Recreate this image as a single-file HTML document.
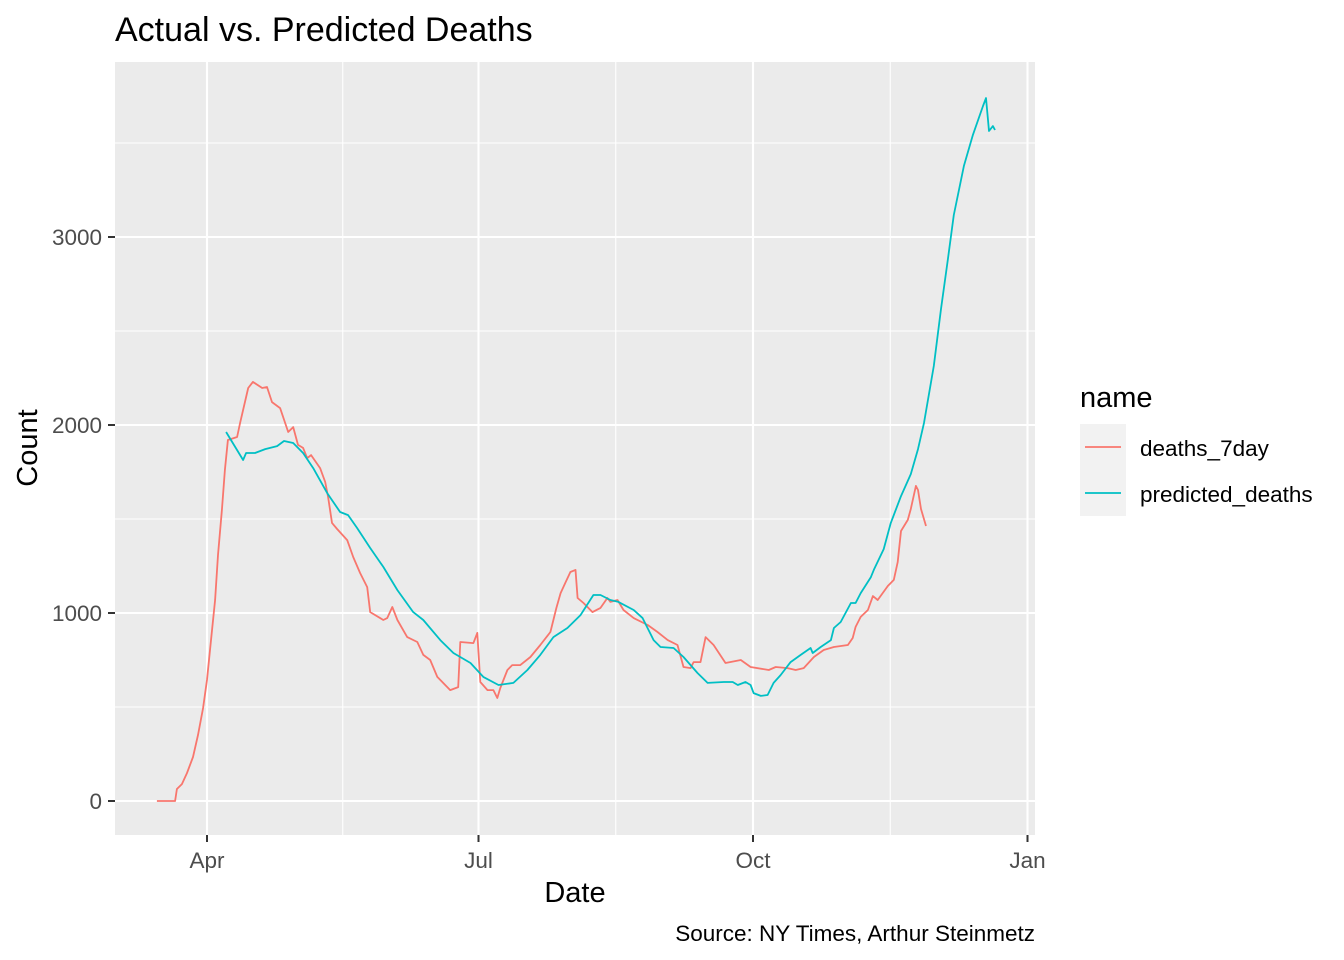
<!DOCTYPE html>
<html><head><meta charset="utf-8"><style>
html,body{margin:0;padding:0;background:#fff;}
svg{display:block;font-family:"Liberation Sans",Arial,sans-serif;}
</style></head><body>
<svg id="chart" width="1344" height="960" viewBox="0 0 1344 960">
<rect x="0" y="0" width="1344" height="960" fill="#fff"/>
<text x="115" y="41" font-size="34" fill="#000">Actual vs. Predicted Deaths</text>
<rect x="115" y="62" width="920" height="773" fill="#ebebeb"/>
<g id="grid"></g>
<g id="series"></g>
<g id="axes"></g>
<text x="575" y="902" font-size="29" text-anchor="middle" fill="#000">Date</text>
<text transform="translate(37,448) rotate(-90)" font-size="29" text-anchor="middle" fill="#000">Count</text>
<g>
<text x="1080" y="407" font-size="29" fill="#000">name</text>
<rect x="1080" y="424" width="46" height="46" fill="#f2f2f2"/>
<line x1="1085" y1="447" x2="1121" y2="447" stroke="#F8766D" stroke-width="1.8"/>
<text x="1140" y="456" font-size="22.5" fill="#000">deaths_7day</text>
<rect x="1080" y="470" width="46" height="46" fill="#f2f2f2"/>
<line x1="1085" y1="493" x2="1121" y2="493" stroke="#00BFC4" stroke-width="1.8"/>
<text x="1140" y="502" font-size="22.5" fill="#000">predicted_deaths</text>
</g>
<text x="1035" y="941" font-size="22.5" text-anchor="end" fill="#000">Source: NY Times, Arthur Steinmetz</text>
</svg>
<script>
// days since Apr 1, 2020
const deathsDays = [-16.8,-10.7,-10.1,-8.4,-6.7,-4.7,-3.0,-1.3,0,1.0,2.7,3.7,5.0,6.0,7.0,10.1,11.1,13.8,15.4,18.5,20.1,21.8,24.5,27.2,28.9,30.5,32.2,33.6,34.9,37.9,39.6,40.6,41.9,43.6,47.0,49.0,51.3,53.7,54.7,59.1,60.4,62.1,63.8,67.1,70.5,72.5,74.8,77.2,81.5,84.2,84.9,89.3,90.6,91.6,94.0,96.0,97.3,98.3,100.7,102.3,105.0,108.4,111.7,115.1,117.1,118.5,120.1,121.8,123.5,124.2,126.2,129.2,131.9,134.2,135.2,137.6,139.6,143.0,147.7,151.0,154.4,157.7,159.7,162.1,163.1,165.4,167.1,169.8,173.8,178.9,182.2,188.3,190.6,194.6,197.3,200.0,203.4,206.7,210.1,214.8,216.4,217.4,219.1,221.5,223.2,224.8,228.2,230.2,231.5,232.6,234.9,235.9,237.6,238.3,239.3,241.0];
const deathsValues = [0,0,64,90,149,234,351,495,644,803,1069,1309,1548,1761,1920,1936,2011,2197,2229,2197,2202,2122,2090,1963,1989,1894,1878,1824,1840,1771,1697,1617,1479,1447,1388,1298,1213,1138,1005,963,973,1032,963,872,846,777,750,660,590,606,846,840,894,633,590,590,548,601,697,723,723,766,830,899,1027,1106,1160,1218,1229,1080,1053,1005,1027,1080,1059,1069,1016,973,936,899,856,830,713,707,739,739,872,830,734,750,713,697,713,707,697,707,766,803,819,830,867,926,979,1016,1090,1069,1144,1176,1271,1436,1495,1553,1676,1654,1553,1463];
const predDays = [6.4,12.1,13.1,16.1,19.5,23.5,25.8,28.9,32.2,35.6,40.3,44.6,47.3,50.3,54.7,59.1,63.8,69.1,72.5,78.2,82.6,88.3,92.6,97.7,102.7,107.4,111.7,116.1,120.8,125.2,129.5,131.9,135.2,137.9,143.0,146.0,149.7,152.0,156.4,159.7,164.4,167.8,173.2,176.2,177.9,180.5,182.2,183.2,185.6,187.9,189.9,192.3,195.6,199.0,202.3,203.0,205.7,209.1,210.1,212.4,215.8,217.4,219.1,222.5,223.5,226.8,229.2,232.6,235.9,238.3,240.3,243.6,246.0,248.3,250.3,253.7,256.7,260.1,261.1,262.1,263.4,264.1];
const predValues = [1963,1814,1851,1851,1872,1888,1915,1904,1851,1771,1638,1537,1521,1452,1346,1245,1122,1005,963,856,787,734,660,617,628,697,777,872,920,989,1096,1096,1069,1059,1016,973,856,819,814,766,681,628,633,633,617,633,617,574,559,564,628,670,739,777,814,787,819,856,920,952,1053,1053,1106,1191,1229,1340,1479,1622,1739,1872,2011,2314,2617,2878,3117,3378,3543,3697,3739,3564,3590,3569];
const yTicks = [0,1000,2000,3000];
const yMinor = [500,1500,2500,3500];
const xTickDays = [0,91,183,275];
const xTickLabels = ["Apr","Jul","Oct","Jan"];
const xMinorDays = [45.5,137,229];

const NS = "http://www.w3.org/2000/svg";
const X = d => 207 + d * 2.9836;
const Y = v => 801 - v * 0.188;
function mk(tag, attrs, parent){const e=document.createElementNS(NS,tag);for(const k in attrs)e.setAttribute(k,attrs[k]);parent.appendChild(e);return e;}
const grid=document.getElementById('grid'), axes=document.getElementById('axes'), series=document.getElementById('series');

yMinor.forEach(v=>{const l=mk('line',{x1:115,x2:1035,y1:Y(v),y2:Y(v),stroke:'#fff','stroke-width':1.1},grid);

});
xMinorDays.forEach(d=>{const l=mk('line',{x1:X(d),x2:X(d),y1:62,y2:835,stroke:'#fff','stroke-width':1.1},grid);

});
yTicks.forEach(v=>{const l=mk('line',{x1:115,x2:1035,y1:Y(v),y2:Y(v),stroke:'#fff','stroke-width':2.1},grid);


const t=mk('line',{x1:108,x2:115,y1:Y(v),y2:Y(v),stroke:'#333','stroke-width':2},axes);


const tx=mk('text',{x:102,y:Y(v)+8,'font-size':22.5,'text-anchor':'end',fill:'#4d4d4d'},axes);tx.textContent=String(v);

});
xTickDays.forEach((d,i)=>{const l=mk('line',{x1:X(d),x2:X(d),y1:62,y2:835,stroke:'#fff','stroke-width':2.1},grid);


const t=mk('line',{x1:X(d),x2:X(d),y1:835,y2:842,stroke:'#333','stroke-width':2},axes);


const tx=mk('text',{x:X(d),y:868,'font-size':22.5,'text-anchor':'middle',fill:'#4d4d4d'},axes);tx.textContent=xTickLabels[i];

});

function path(days,vals){return days.map((d,i)=>(i?'L':'M')+X(d).toFixed(1)+','+Y(vals[i]).toFixed(1)).join('');}
const p1=mk('path',{d:path(deathsDays,deathsValues),fill:'none',stroke:'#F8766D','stroke-width':1.8,'stroke-linejoin':'round'},series);


const p2=mk('path',{d:path(predDays,predValues),fill:'none',stroke:'#00BFC4','stroke-width':1.8,'stroke-linejoin':'round'},series);


</script>
</body></html>
